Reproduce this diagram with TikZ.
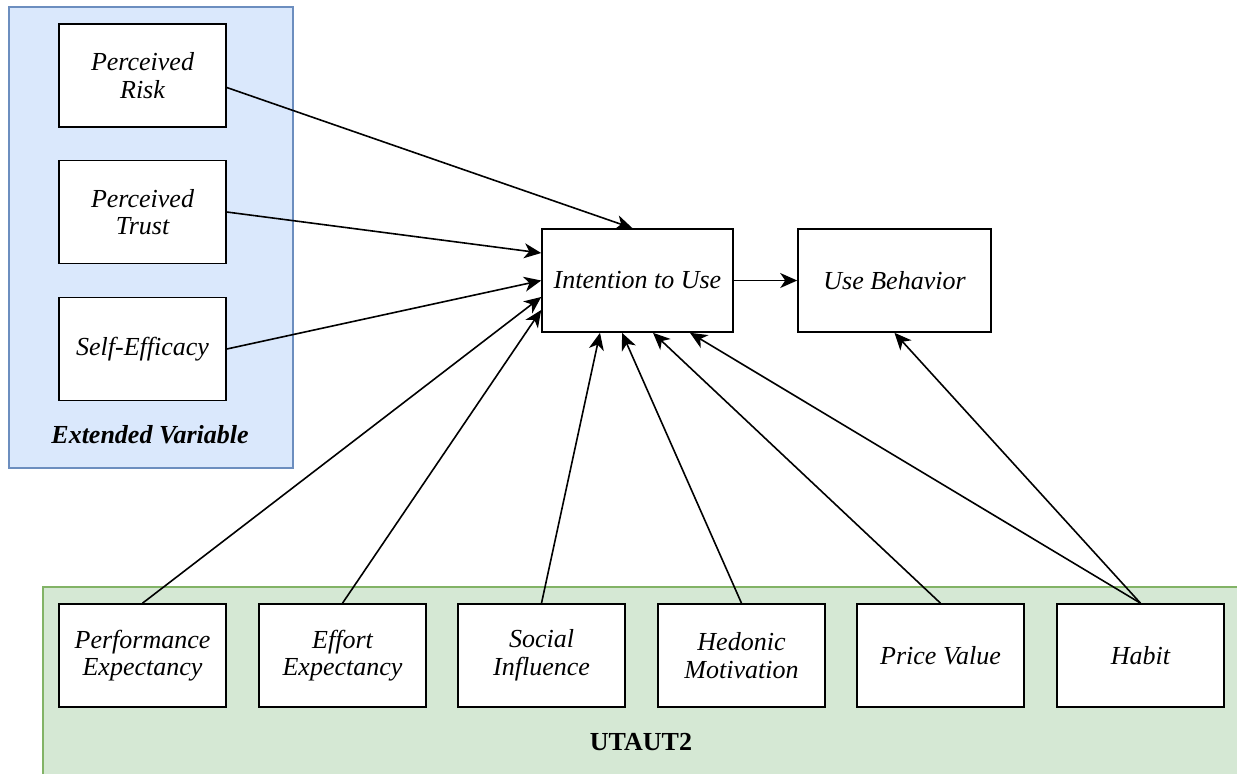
\documentclass[tikz,border=0pt]{standalone}
\usepackage{fontspec}
\setmainfont{Liberation Serif}
\usetikzlibrary{positioning}
\usetikzlibrary{arrows.meta}

\definecolor{extfill}{HTML}{DAE8FC}
\definecolor{extline}{HTML}{6C8EBF}
\definecolor{utfill}{HTML}{D5E8D4}
\definecolor{utline}{HTML}{82B366}

\tikzset{
	var/.style = {draw, fill = white, line width = 0.8pt, minimum width = 83.5pt, minimum height = 51.5pt, align = center, inner sep = 2pt, font = \fontsize{13}{13.8}\selectfont\itshape},
	grouplabel/.style = {font = \fontsize{13}{13.8}\selectfont\bfseries},
	link/.style = {black, line width = 0.8pt, -{Stealth[length = 8.5pt, width = 7.5pt, inset = 2.5pt]}}
}

\begin{document}
\begin{tikzpicture}[x = 0.5pt, y = -0.5pt]
					\useasboundingbox (0, 0) rectangle (1237, 773);
					\fill[white] (0, 0) rectangle (1237, 773);
					% groups
					\draw[fill = extfill, draw = extline, line width = 0.6pt] (9, 7) rectangle (293, 468);
					\draw[fill = utfill, draw = utline, line width = 0.6pt] (43, 587) rectangle (1250, 790);
					\node[grouplabel] (extvar) at (150, 435) {\itshape Extended Variable};
					\node[grouplabel] (utaut) at (641, 742) {UTAUT2};
					% variables
					\node[var] (risk) at (142.5, 75.5) {Perceived\\Risk};
					\node[var] (trust) at (142.5, 212) {Perceived\\Trust};
					\node[var] (selfeff) at (142.5, 349) {Self-Efficacy};
					\node[var, minimum width = 95.5pt] (intention) at (637.5, 280.5) {Intention to Use};
					\node[var, minimum width = 96.5pt] (usebeh) at (894.5, 280.5) {Use Behavior};
					\node[var] (perf) at (142.5, 655.5) {Performance\\Expectancy};
					\node[var] (effort) at (342.5, 655.5) {Effort\\Expectancy};
					\node[var] (social) at (541.5, 655.5) {Social\\Influence};
					\node[var] (hedonic) at (741.5, 655.5) {Hedonic\\Motivation};
					\node[var] (price) at (940.5, 655.5) {Price Value};
					\node[var] (habit) at (1140.5, 655.5) {Habit};
					% paths
					\draw[link] ([yshift = -6pt]risk.east) -- ([xshift = -2.5pt]intention.north);
					\draw[link] (trust.east) -- ([yshift = 13.75pt]intention.west);
					\draw[link] (selfeff.east) -- (intention.west);
					\draw[link] (perf.north) -- ([yshift = -8.25pt]intention.west);
					\draw[link] (effort.north) -- ([yshift = -14.75pt]intention.west);
					\draw[link] (social.north) -- ([xshift = -18.75pt]intention.south);
					\draw[link] (hedonic.north) -- ([xshift = -7.75pt]intention.south);
					\draw[link] (price.north) -- ([xshift = 7.75pt]intention.south);
					\draw[link] (habit.north) -- ([xshift = 26.25pt]intention.south);
					\draw[link] (habit.north) -- (usebeh.south);
					\draw[link] (intention.east) -- (usebeh.west);
				\end{tikzpicture}
\end{document}
